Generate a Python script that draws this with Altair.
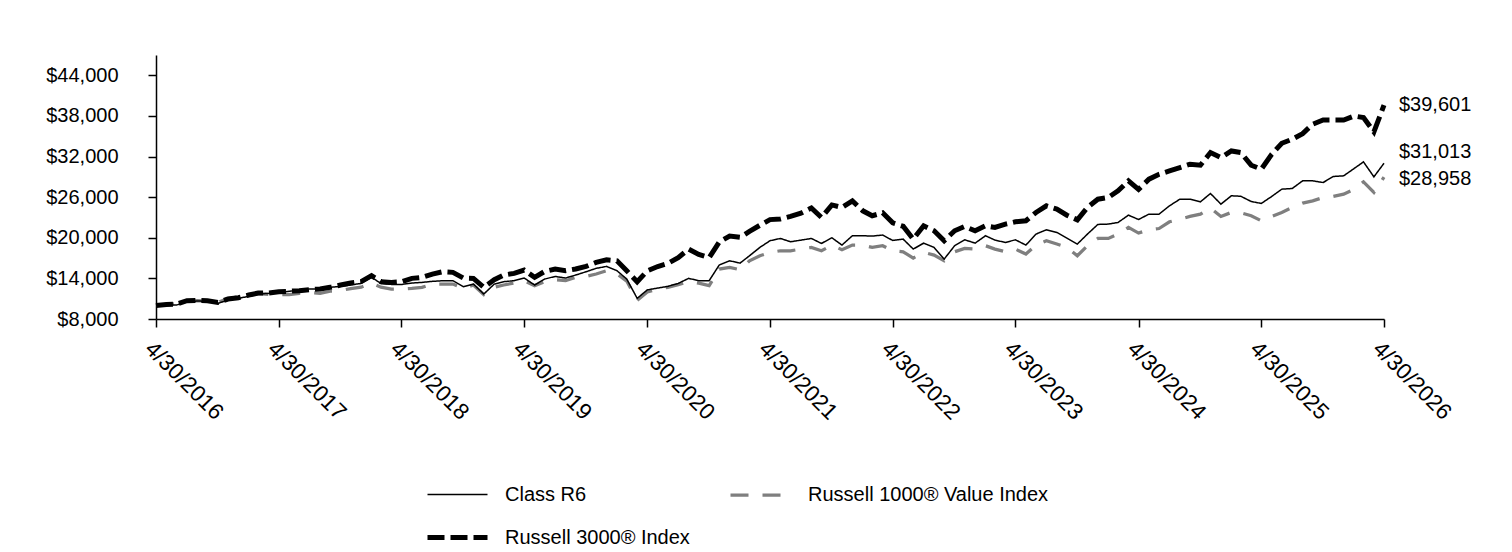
import calendar

import altair as alt
import pandas as pd

# Month-end dates, 4/30/2016 through 4/30/2026
months = []
y, m = 2016, 4
for _ in range(121):
    months.append(f"{y}-{m:02d}-{calendar.monthrange(y, m)[1]:02d}")
    m += 1
    if m > 12:
        m, y = 1, y + 1

# Growth of a hypothetical $10,000 investment, month-end values
class_r6 = [
    10000, 10040, 10060, 10550, 10660, 10600, 10310, 10800, 11050,
    11350, 11690, 11790, 11930, 12090, 12280, 12430, 12430, 12680, 12820, 13020, 13260,
    14150, 13260, 13110, 13100, 13310, 13410, 13560, 13660, 13660, 12770, 13160, 11690,
    13160, 13510, 13660, 14050, 13020, 13900, 14290, 14050, 14490, 14980, 15480, 15770,
    15130, 13900, 11050, 12300, 12570, 12820, 13260, 14000, 13660, 13660, 15970, 16600,
    16260, 17340, 18580, 19560, 19900, 19410, 19650, 19900, 19160, 20000, 18920, 20300,
    20300, 20250, 20400, 19600, 19800, 18330, 19210, 18570, 16850, 18820, 19700, 19210,
    20300, 19650, 19310, 19700, 18920, 20540, 21180, 20790, 19950, 19070, 20540, 21970,
    22020, 22260, 23340, 22700, 23490, 23490, 24720, 25700, 25700, 25310, 26540, 24970,
    26200, 26130, 25360, 25070, 26100, 27180, 27280, 28410, 28410, 28160, 29050, 29150,
    30230, 31210, 29000, 31013,
]

russell_3000 = [
    10000, 10150, 10200, 10700, 10750, 10700, 10450, 10950, 11150,
    11540, 11840, 11840, 12030, 12100, 12180, 12330, 12430, 12680, 13020, 13310, 13510,
    14400, 13510, 13410, 13500, 14000, 14150, 14640, 14980, 14890, 14050, 14000, 12680,
    13800, 14490, 14740, 15230, 14150, 15030, 15380, 15130, 15380, 15770, 16360, 16750,
    16600, 15130, 13500, 15100, 15750, 16200, 17050, 18330, 17540, 17050, 19360, 20250,
    20060, 20940, 21850, 22680, 22780, 23150, 23640, 24400, 23000, 24850, 24470, 25450,
    23980, 23250, 23690, 22200, 21700, 19800, 21770, 21030, 19560, 21030, 21670, 21030,
    21770, 21530, 22020, 22360, 22510, 23740, 24720, 24230, 23340, 22650, 24470, 25700,
    25950, 26930, 28400, 27150, 28660, 29390, 29880, 30380, 30870, 30720, 32590, 31850,
    32830, 32590, 30720, 30130, 32340, 33960, 34560, 35390, 36770, 37400, 37400, 37400,
    37990, 37750, 35640, 39601,
]

russell_1000_value = [
    10000, 10150, 10250, 10600, 10700, 10650, 10450, 11000, 11300,
    11380, 11750, 11620, 11620, 11600, 11800, 11900, 11800, 12100, 12200, 12500, 12700,
    13300, 12700, 12400, 12430, 12530, 12680, 13160, 13160, 13160, 12530, 13020, 11600,
    12680, 13020, 13310, 13660, 12920, 13510, 13800, 13660, 14150, 14290, 14640, 15130,
    14640, 13600, 10750, 12000, 12430, 12680, 13060, 13510, 13310, 12920, 15380, 15620,
    15280, 16600, 17340, 17840, 18080, 18080, 18330, 18580, 18080, 18920, 18230, 18920,
    18920, 18580, 18820, 18080, 17930, 17000, 17840, 17440, 16600, 17930, 18430, 18330,
    18820, 18330, 17930, 18330, 17590, 18920, 19560, 19070, 18580, 17340, 18820, 19900,
    19900, 20540, 21530, 20690, 21180, 21370, 22360, 22750, 23150, 23490, 24400, 23150,
    23740, 23690, 23250, 22510, 23150, 23740, 24470, 25110, 25450, 25950, 26100, 26440,
    27180, 28260, 26690, 28958,
]

SERIES = ["Class R6", "Russell 1000® Value Index", "Russell 3000® Index"]
VALUES = [class_r6, russell_1000_value, russell_3000]
# Legend entries fill column by column
LEGEND_ORDER = ["Class R6", "Russell 3000® Index", "Russell 1000® Value Index"]

y_ticks = [8000, 14000, 20000, 26000, 32000, 38000, 44000]
x_ticks = [alt.DateTime(year=yr, month=4, date=30, utc=True) for yr in range(2016, 2027)]

df = pd.DataFrame(
    [
        {"date": d, "series": name, "value": v}
        for name, vals in zip(SERIES, VALUES)
        for d, v in zip(months, vals)
    ]
)
ends = pd.DataFrame(
    {"date": [months[-1]] * 3, "series": SERIES, "value": [vals[-1] for vals in VALUES]}
)

FONT = "Liberation Sans"

legend = alt.Legend(
    title=None,
    orient="none",
    legendX=269,
    legendY=408,
    columns=2,
    values=LEGEND_ORDER,
    symbolType="stroke",
    symbolSize=3600,
    labelOffset=15,
    labelFont=FONT,
    labelFontSize=20,
    labelColor="black",
    labelLimit=0,
    columnPadding=34,
    rowPadding=-17,
    padding=0,
)

x_enc = alt.X(
    "date:T",
    scale=alt.Scale(
        type="utc",
        domain=[
            alt.DateTime(year=2016, month=4, date=30, utc=True),
            alt.DateTime(year=2026, month=4, date=30, utc=True),
        ],
    ),
    axis=alt.Axis(
        values=x_ticks,
        labelExpr="utcFormat(datum.value, '%-m/%-d/%Y')",
        labelAngle=45,
        labelAlign="left",
        labelBaseline="top",
        labelPadding=10,
        labelFont=FONT,
        labelFontSize=22.5,
        labelColor="black",
        tickSize=8,
        tickColor="black",
        tickWidth=1.5,
        domainColor="black",
        domainWidth=1.5,
        grid=False,
        title=None,
        labelOverlap=False,
    ),
)

y_enc = alt.Y(
    "value:Q",
    scale=alt.Scale(domain=[8000, 47000], nice=False, zero=False),
    axis=alt.Axis(
        values=y_ticks,
        format="$,.0f",
        labelPadding=30,
        labelFont=FONT,
        labelFontSize=20,
        labelColor="black",
        tickSize=8,
        tickColor="black",
        tickWidth=1.5,
        domainColor="black",
        domainWidth=1.5,
        grid=False,
        title=None,
    ),
)

enc = dict(
    x=x_enc,
    y=y_enc,
    color=alt.Color(
        "series:N",
        scale=alt.Scale(domain=SERIES, range=["#000000", "#7f7f7f", "#000000"]),
        legend=legend,
    ),
    strokeDash=alt.StrokeDash(
        "series:N",
        scale=alt.Scale(domain=SERIES, range=[[1, 0], [18, 14], [17, 6]]),
        legend=legend,
    ),
    strokeWidth=alt.StrokeWidth(
        "series:N",
        scale=alt.Scale(domain=SERIES, range=[1.5, 5, 5]),
        legend=legend,
    ),
)

base = alt.Chart(df)
# Draw the index lines first so the fund line sits on top
lines = [
    base.mark_line(strokeCap="butt", strokeJoin="miter")
    .transform_filter(alt.datum.series == name)
    .encode(**enc)
    for name in ["Russell 1000® Value Index", "Russell 3000® Index", "Class R6"]
]

label_dy = {"Russell 3000® Index": 0, "Class R6": -11, "Russell 1000® Value Index": 2}
end_labels = [
    alt.Chart(ends)
    .mark_text(align="left", baseline="middle", dx=15, dy=dy, font=FONT, fontSize=20, color="black")
    .transform_filter(alt.datum.series == name)
    .encode(x=alt.X("date:T"), y=alt.Y("value:Q"), text=alt.Text("value:Q", format="$,.0f"))
    for name, dy in label_dy.items()
]

chart = (
    alt.layer(*lines, *end_labels)
    .properties(
        width=1228,
        height=264,
        autosize=alt.AutoSizeParams(type="none"),
        padding={"left": 156, "top": 55, "right": 128, "bottom": 233},
        background="white",
    )
    .configure_view(stroke=None)
)

chart.save("out.html", embed_options={"renderer": "svg", "actions": False})
